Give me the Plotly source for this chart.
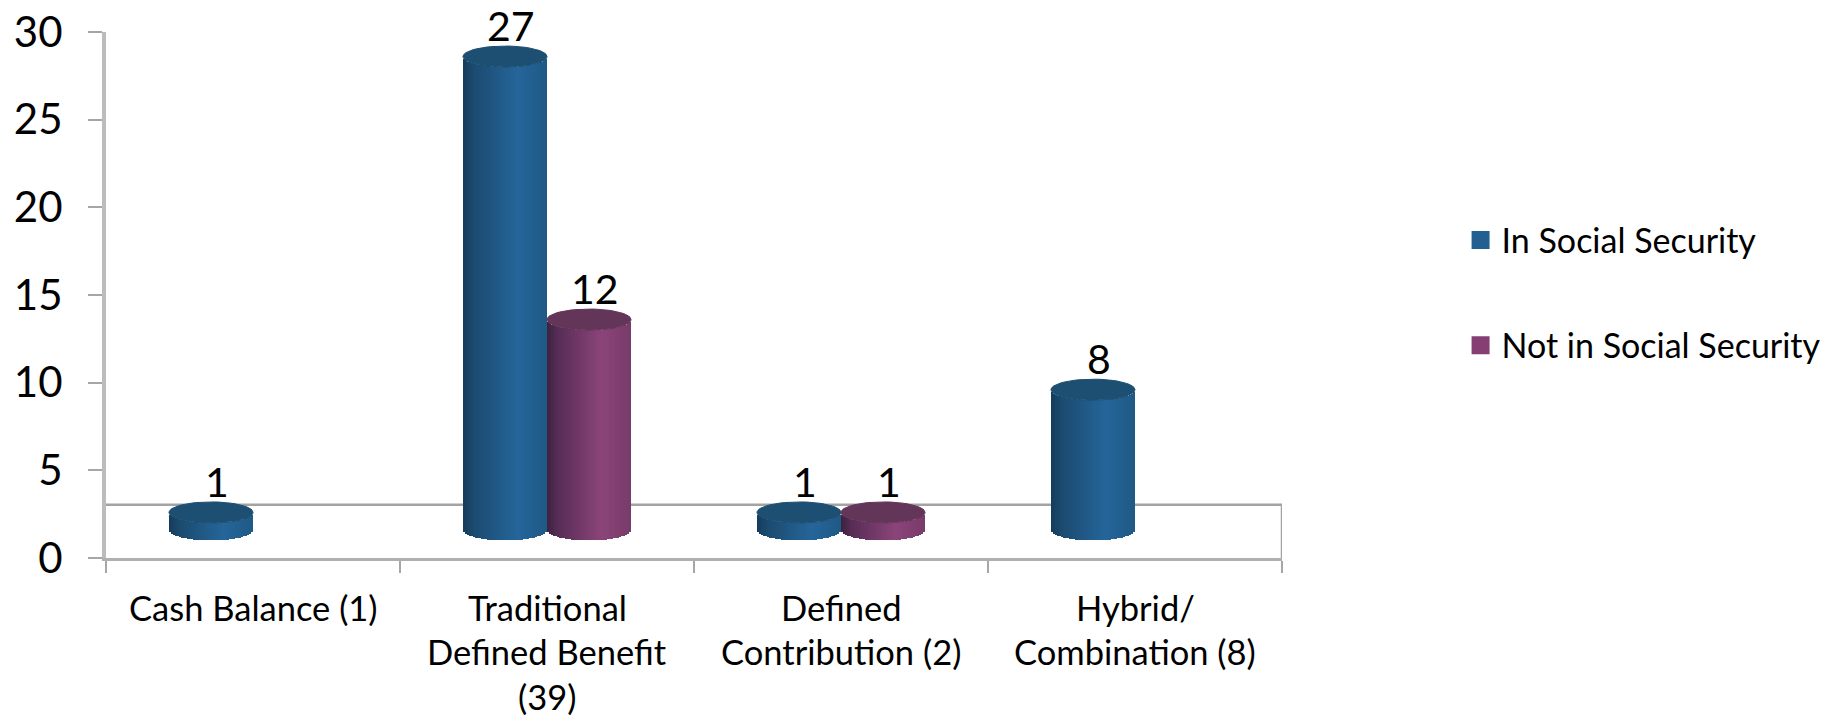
import numpy as np
import plotly.graph_objects as go

# Chart data
category_lines = [
    ["Cash Balance (1)"],
    ["Traditional", "Defined Benefit", "(39)"],
    ["Defined", "Contribution (2)"],
    ["Hybrid/", "Combination (8)"],
]
series_names = ["In Social Security", "Not in Social Security"]
in_social_security = [1, 27, 1, 8]
not_in_social_security = [None, 12, 1, None]
y_ticks = [0, 5, 10, 15, 20, 25, 30]

# Styling
FONT = "Lato"
BLUE_RAMP = [(0.0, "#163c5a"), (0.12, "#1b4a6e"), (0.65, "#25659a"), (1.0, "#1f5a85")]
PURPLE_RAMP = [(0.0, "#3c2240"), (0.12, "#562c55"), (0.65, "#8b4479"), (1.0, "#773b69")]
BLUE_CAP = "#1d4f73"
PURPLE_CAP = "#633558"
BLUE_KEY = "#236092"
PURPLE_KEY = "#863f73"
BAR_WIDTH = 0.2857          # category units
FLOOR_LIFT = 1.6            # oblique offset of the column bases, in y units
CAP_RY = 0.6                # vertical radius of the elliptical caps, in y units
LABEL_DROP = 0.29           # value labels tuck in towards the cap, in y units
WALL_Y = 3.04
SLICES = 42


def hex_rgb(h):
    return np.array([int(h[i:i + 2], 16) for i in (1, 3, 5)], dtype=float)


def ramp_colour(ramp, t):
    stops = [s for s, _ in ramp]
    rgb = np.array([hex_rgb(c) for _, c in ramp])
    return "rgb({:.0f},{:.0f},{:.0f})".format(*[np.interp(t, stops, rgb[:, k]) for k in range(3)])


def cylinder_slices(values, shift, ramp):
    """Vertical strips of each column, shaded across its width."""
    xs, bases, heights, colours = [], [], [], []
    du = 2 / SLICES
    for i, v in enumerate(values):
        if v is None:
            continue
        cx = i + 0.5 + shift
        for k in range(SLICES):
            u = -1 + (k + 0.5) * du
            xs.append(cx + u * BAR_WIDTH / 2)
            bases.append(FLOOR_LIFT - CAP_RY * np.sqrt(1 - u * u))
            heights.append(v)
            colours.append(ramp_colour(ramp, (u + 1) / 2))
    return xs, bases, heights, colours


def cap_outline(values, shift):
    """Closed ellipses on top of each column, separated by gaps."""
    xs, ys = [], []
    t = np.linspace(0, 2 * np.pi, 60)
    for i, v in enumerate(values):
        if v is None:
            continue
        cx = i + 0.5 + shift
        xs += list(cx + BAR_WIDTH / 2 * np.cos(t)) + [None]
        ys += list(FLOOR_LIFT + v + CAP_RY * np.sin(t)) + [None]
    return xs, ys


fig = go.Figure()

series = [
    (in_social_security, -BAR_WIDTH / 2, BLUE_RAMP, BLUE_CAP, BLUE_KEY, series_names[0]),
    (not_in_social_security, BAR_WIDTH / 2, PURPLE_RAMP, PURPLE_CAP, PURPLE_KEY, series_names[1]),
]

for values, shift, ramp, cap, key, name in series:
    xs, bases, heights, colours = cylinder_slices(values, shift, ramp)
    fig.add_trace(go.Bar(
        x=xs, y=heights, base=bases, width=BAR_WIDTH / SLICES * 1.25,
        marker=dict(color=colours, line=dict(width=0)),
        showlegend=False, hoverinfo="skip",
    ))

# Value labels sit behind the caps, so they are added first
for values, shift, ramp, cap, key, name in series:
    kept = [(i, v) for i, v in enumerate(values) if v is not None]
    fig.add_trace(go.Scatter(
        x=[i + 0.5 + shift + 0.02 for i, v in kept],
        y=[FLOOR_LIFT + v + CAP_RY - LABEL_DROP for i, v in kept],
        text=[str(v) for i, v in kept],
        mode="text", textposition="top center", cliponaxis=False,
        textfont=dict(family=FONT, size=41, color="#000000"),
        showlegend=False, hoverinfo="skip",
    ))

for values, shift, ramp, cap, key, name in series:
    cx, cy = cap_outline(values, shift)
    fig.add_trace(go.Scatter(
        x=cx, y=cy, mode="lines", fill="toself", fillcolor=cap,
        line=dict(width=1, color=cap), cliponaxis=False,
        showlegend=False, hoverinfo="skip",
    ))

# Legend keys
for i, (values, shift, ramp, cap, key, name) in enumerate(series):
    fig.add_trace(go.Scatter(
        x=[None], y=[None], mode="markers", name=name, legendgroup=name,
        marker=dict(symbol="square", size=16, color=key, line=dict(width=2, color=key)),
    ))

# Back wall of the plot box
wall = dict(color="#a3a3a3", width=2.5)
fig.add_shape(type="line", x0=0, x1=4, y0=WALL_Y, y1=WALL_Y, line=wall, layer="below")
fig.add_shape(type="line", x0=4, x1=4, y0=0, y1=WALL_Y, line=wall, layer="below")

# Category labels, one annotation per line for the wider leading
for i, lines in enumerate(category_lines):
    for j, line in enumerate(lines):
        fig.add_annotation(
            x=i + 0.5, y=0, xref="x", yref="y", text=line, showarrow=False,
            yanchor="middle", yshift=-(49 + 44.5 * j),
            font=dict(family=FONT, size=34.5, color="#000000"),
        )

fig.update_layout(
    width=1827, height=716, autosize=False,
    margin=dict(l=105.5, r=545, t=32, b=158, pad=0, autoexpand=False),
    paper_bgcolor="#ffffff", plot_bgcolor="#ffffff",
    barmode="overlay", bargap=0,
    font=dict(family=FONT, color="#000000"),
    legend=dict(
        x=1.151, xanchor="left", y=0.659, yanchor="top", itemwidth=32,
        font=dict(family=FONT, size=34, color="#000000"),
        tracegroupgap=58, itemclick=False, itemdoubleclick=False,
        bgcolor="rgba(0,0,0,0)",
    ),
    xaxis=dict(
        range=[0, 4], showgrid=False, zeroline=False,
        showline=True, linecolor="#b0b0b0", linewidth=3,
        tickvals=[0.5, 1.5, 2.5, 3.5], ticktext=["", "", "", ""], ticks="",
        minor=dict(tickvals=[0, 1, 2, 3, 4], ticks="outside", ticklen=12,
                   tickcolor="#a6a6a6", tickwidth=2, showgrid=False),
    ),
    yaxis=dict(
        range=[0, 30], showgrid=False, zeroline=False,
        showline=True, linecolor="#bcbcbc", linewidth=4,
        tickvals=y_ticks, ticks="outside", ticklen=14,
        tickcolor="#a6a6a6", tickwidth=2, ticklabelstandoff=17,
        tickfont=dict(family=FONT, size=42, color="#000000"),
    ),
)

fig.write_html("out.html")
